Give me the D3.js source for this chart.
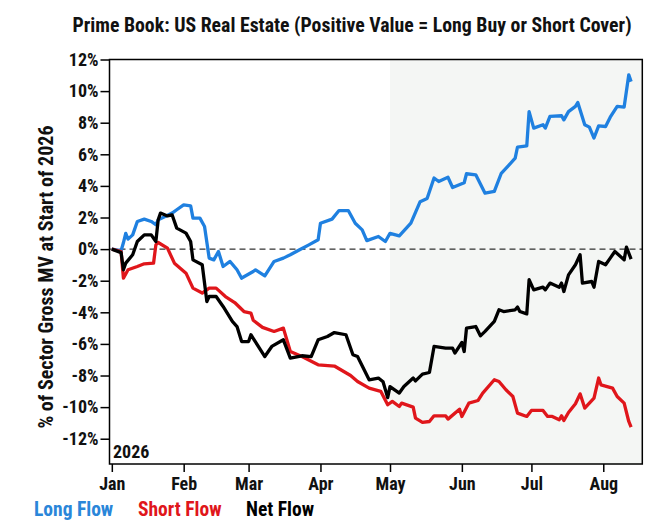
<!DOCTYPE html>
<html lang="en">
<head>
    <meta charset="UTF-8">
    <title>Prime Book: US Real Estate</title>
    <script src="https://cdn.jsdelivr.net/npm/d3@7"></script>
    <style>
        body { margin: 0; background: #fff; }
        svg text { font-family: "Roboto Condensed", "Liberation Sans Narrow", "DejaVu Sans Condensed", sans-serif; font-weight: bold; }
    </style>
</head>
<body>
    <svg width="670" height="532"></svg>

    <script>
        // data (% of sector gross MV)
        var longDates = ['01-01','01-05','01-06','01-07','01-08','01-10','01-12','01-15','01-18','01-20','01-21','01-24','01-27','01-29',
            '02-01','02-04','02-05','02-08','02-10','02-12','02-14','02-16','02-18','02-21','02-24','02-26','02-27',
            '03-03','03-04','03-08','03-12','03-16','03-19','03-23','03-27','03-31',
            '04-01','04-06','04-09','04-13','04-16','04-19','04-21','04-26','04-29',
            '05-01','05-05','05-10','05-14','05-17','05-20','05-22','05-26','05-28',
            '06-02','06-03','06-07','06-11','06-15','06-18','06-21','06-24','06-25','06-29','06-30',
            '07-02','07-06','07-07','07-09','07-14','07-15','07-17','07-20','07-21','07-24','07-26','07-28','07-30',
            '08-02','08-04','08-07','08-10','08-12','08-13']
        var longValues = [0,-0.1,0.4,1.0,0.63,0.9,1.75,1.9,1.75,1.54,1.85,2.06,2.28,2.49,
            2.8,2.74,1.96,1.96,1.43,-0.57,-0.68,-0.15,-1.1,-0.78,-1.31,-1.84,-1.75,
            -1.42,-1.31,-1.69,-0.78,-0.57,-0.36,-0.04,0.27,0.59,
            1.64,1.9,2.44,2.44,1.64,1.22,0.54,0.8,0.48,
            1.0,0.84,1.64,3.0,3.2,4.5,4.28,4.55,3.9,
            4.2,4.77,4.7,3.54,3.65,4.8,5.27,5.76,6.46,6.54,8.7,
            7.66,7.87,7.66,8.4,8.44,8.18,8.7,9.03,9.28,7.87,7.72,7.03,7.8,
            7.76,8.35,9.03,8.99,11.03,10.6]

        var shortDates = ['01-01','01-05','01-06','01-08','01-12','01-15','01-19','01-20','01-21','01-25','01-28',
            '02-02','02-05','02-09','02-12','02-15','02-19','02-23','02-27',
            '03-02','03-03','03-07','03-12','03-16','03-19','03-24','03-31',
            '04-07','04-14','04-17','04-22','04-27','04-30',
            '05-02','05-05','05-06','05-11','05-12','05-15','05-18','05-20','05-25','05-26','05-31',
            '06-01','06-04','06-08','06-10','06-15','06-17','06-20','06-23','06-25','06-29',
            '07-01','07-06','07-08','07-10','07-13','07-14','07-15','07-17','07-20','07-22','07-24','07-28','07-30','07-31',
            '08-05','08-07','08-10','08-12','08-13']
        var shortValues = [0,-0.15,-1.84,-1.31,-1.1,-0.93,-0.89,0.27,0.42,0.06,-0.89,
            -1.52,-2.47,-2.78,-2.47,-2.47,-3.0,-3.38,-3.95,
            -4.05,-4.5,-4.95,-5.21,-5.0,-6.48,-6.8,-7.32,
            -7.4,-8.0,-8.38,-8.8,-9.0,-9.85,
            -9.64,-9.96,-9.75,-10.0,-10.7,-10.97,-10.91,-10.55,-10.55,-10.76,-10.13,
            -10.59,-9.75,-9.58,-9.11,-8.27,-8.38,-8.9,-9.33,-10.38,-10.59,
            -10.21,-10.21,-10.59,-10.59,-10.8,-10.55,-10.85,-10.34,-9.79,-9.16,-10.06,-9.43,-8.16,-8.59,
            -8.8,-9.33,-9.75,-10.91,-11.27]

        var netDates = ['01-01','01-05','01-06','01-07','01-10','01-12','01-15','01-18','01-20','01-21','01-22','01-25','01-27','01-29',
            '02-02','02-04','02-05','02-09','02-11','02-12','02-15','02-18','02-22','02-24','02-26',
            '03-01','03-02','03-08','03-11','03-16','03-19','03-24','03-28','03-31',
            '04-04','04-07','04-12','04-15','04-17','04-22','04-26','04-28','04-30',
            '05-01','05-05','05-07','05-11','05-12','05-15','05-18','05-20','05-25','05-28','05-29',
            '06-01','06-02','06-03','06-07','06-09','06-11','06-15','06-17','06-19','06-24','06-25','06-26','06-29','06-30',
            '07-02','07-06','07-07','07-09','07-13','07-14','07-15','07-17','07-20','07-22','07-23','07-27','07-28','07-30',
            '08-02','08-04','08-06','08-10','08-11','08-13']
        var netValues = [0,-0.22,-1.31,-0.89,-0.36,0.48,0.9,0.9,0.48,1.85,2.28,2.1,2.17,1.33,
            1.01,0.48,-0.68,-0.99,-3.32,-3.0,-3.0,-3.63,-4.58,-4.9,-5.85,
            -5.85,-5.42,-6.8,-6.16,-5.74,-6.9,-6.75,-6.8,-5.74,
            -5.53,-5.28,-5.42,-6.69,-6.8,-8.27,-8.16,-8.4,-9.4,
            -8.7,-9.11,-8.7,-8.16,-8.34,-7.91,-7.81,-6.16,-6.27,-6.27,-6.58,
            -5.91,-6.48,-5.0,-4.9,-5.49,-5.21,-4.58,-3.84,-3.95,-3.84,-3.67,-3.95,-4.1,-1.94,
            -2.58,-2.41,-2.58,-2.15,-2.41,-2.15,-2.68,-1.63,-0.99,-0.36,-2.15,-2.05,-2.41,-0.78,
            -0.99,-0.57,-0.15,-0.68,0.13,-0.63]

        var yTicks = [-12,-10,-8,-6,-4,-2,0,2,4,6,8,10,12]
        var seriesNames = ['Long Flow','Short Flow','Net Flow']
        var seriesColors = ['#1f80e0','#e0161b','#000000']

        var svg = d3.select('svg')
        // plot box (don't call these top/left: window.top is read only)
        var plotL = 109.5, plotR = 642.3, plotT = 59.5, plotB = 464

        var parse = function (s) { return d3.timeParse('%Y-%m-%d')('2026-' + s) }

        var x = d3.scaleTime()
            .domain([new Date(2025, 11, 31), new Date(2026, 7, 17, 20)])
            .range([plotL, plotR])
        var y = d3.scaleLinear()
            .domain([-13.6, 12])
            .range([plotB, plotT])

        // shaded part from May onwards
        var mayX = x(parse('05-01'))
        svg.append('rect')
            .attr('x', mayX).attr('y', plotT)
            .attr('width', plotR - mayX).attr('height', plotB - plotT)
            .attr('fill', '#f4f6f4')

        // zero line
        svg.append('line')
            .attr('x1', plotL).attr('x2', plotR)
            .attr('y1', y(0)).attr('y2', y(0))
            .attr('stroke', '#000').attr('stroke-width', 1)
            .attr('stroke-dasharray', '6,4')

        var line = d3.line()
            .x(function (d) { return x(d[0]) })
            .y(function (d) { return y(d[1]) })

        var series = [
            d3.zip(longDates.map(parse), longValues),
            d3.zip(shortDates.map(parse), shortValues),
            d3.zip(netDates.map(parse), netValues)
        ]
        // long, short, then net on top
        series.forEach(function (s, i) {
            svg.append('path')
                .datum(s)
                .attr('d', line)
                .attr('fill', 'none')
                .attr('stroke', seriesColors[i])
                .attr('stroke-width', 3.3)
                .attr('stroke-linejoin', 'round')
        })

        // frame
        svg.append('rect')
            .attr('x', plotL).attr('y', plotT)
            .attr('width', plotR - plotL).attr('height', plotB - plotT)
            .attr('fill', 'none').attr('stroke', '#000').attr('stroke-width', 1.5)

        // axes
        var axisY = d3.axisLeft(y)
            .tickValues(yTicks)
            .tickSize(9)
            .tickPadding(2)
            .tickFormat(function (d) { return d + '%' })
        var gy = svg.append('g').attr('transform', 'translate(' + plotL + ',0)').call(axisY)
        gy.select('.domain').remove()
        gy.selectAll('.tick line').attr('stroke', '#000').attr('stroke-width', 1.5)
        gy.selectAll('.tick text').attr('font-size', 18).attr('fill', '#111')

        var monthTicks = d3.timeMonth.range(new Date(2026, 0, 1), new Date(2026, 7, 2))
        var axisX = d3.axisBottom(x)
            .tickValues(monthTicks)
            .tickSize(8)
            .tickPadding(5)
            .tickFormat(d3.timeFormat('%b'))
        var gx = svg.append('g').attr('transform', 'translate(0,' + plotB + ')').call(axisX)
        gx.select('.domain').remove()
        gx.selectAll('.tick line').attr('stroke', '#000').attr('stroke-width', 1.5)
        gx.selectAll('.tick text').attr('font-size', 18).attr('fill', '#111')

        // texts
        svg.append('text')
            .attr('x', 352).attr('y', 32)
            .attr('text-anchor', 'middle')
            .attr('font-size', 19.8)
            .attr('fill', '#111')
            .text('Prime Book: US Real Estate (Positive Value = Long Buy or Short Cover)')

        svg.append('text')
            .attr('transform', 'translate(53,277) rotate(-90)')
            .attr('text-anchor', 'middle')
            .attr('font-size', 20)
            .attr('fill', '#111')
            .text('% of Sector Gross MV at Start of 2026')

        svg.append('text')
            .attr('x', 113).attr('y', 458)
            .attr('font-size', 18)
            .attr('fill', '#111')
            .text('2026')

        var legendX = [34, 138, 246]
        seriesNames.forEach(function (name, i) {
            svg.append('text')
                .attr('x', legendX[i]).attr('y', 516)
                .attr('font-size', 19.5)
                .attr('fill', i == 0 ? '#2a86d9' : seriesColors[i])
                .text(name)
        })
    </script>
</body>
</html>
